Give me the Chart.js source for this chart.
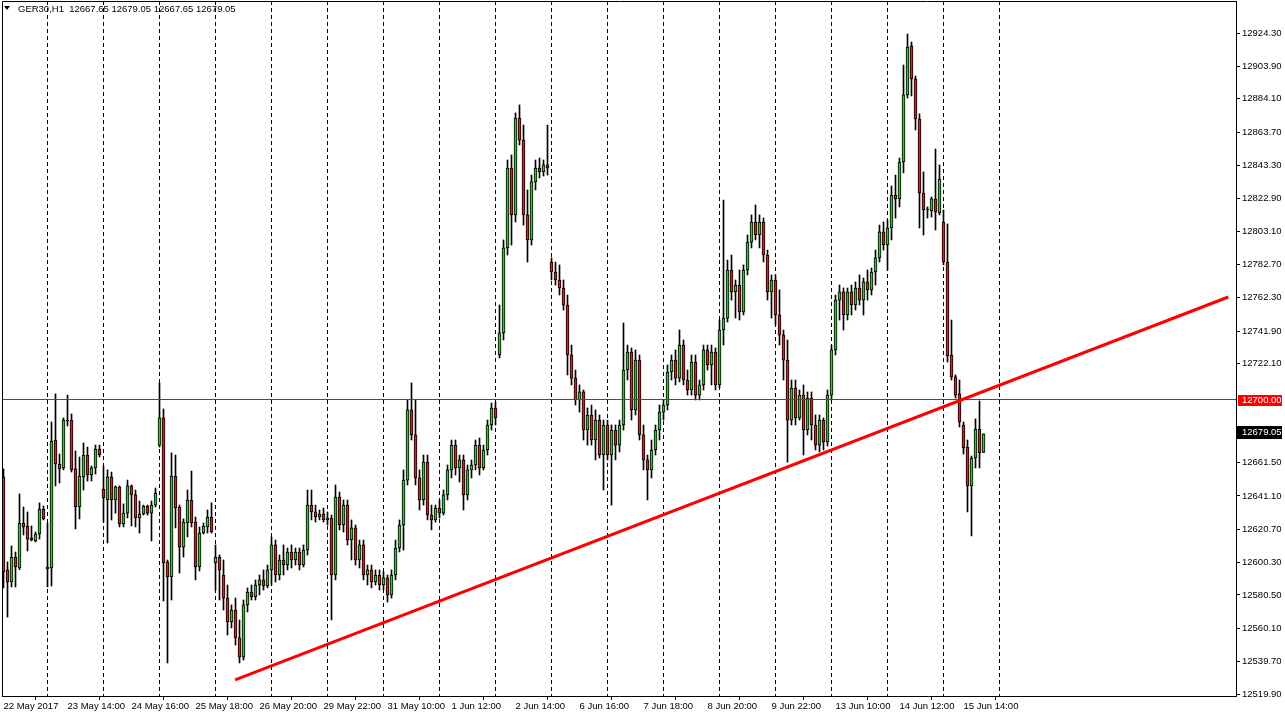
<!DOCTYPE html>
<html><head><meta charset="utf-8">
<script src="https://cdn.jsdelivr.net/npm/chart.js@4.4.1/dist/chart.umd.min.js"></script>
<style>html,body{margin:0;padding:0;background:#fff;overflow:hidden}canvas{display:block}</style>
</head><body>
<canvas id="c" width="1285" height="718"></canvas>
<script>
const symbolTitle = 'GER30,H1';

const opens = [
12652.7,12595.8,12588.4,12603.7,12597.0,12624.5,12622.7,12615.4,12613.5,12617.8,
12633.1,12596.4,12597.0,12675.3,12660.6,12658.2,12687.5,12687.5,12657.6,12634.3,
12652.7,12666.1,12653.9,12658.2,12669.8,12645.3,12638.6,12652.7,12638.6,12646.6,
12623.9,12630.6,12647.2,12641.7,12627.6,12630.0,12634.9,12630.6,12635.5,12672.2,
12688.8,12600.7,12591.5,12653.3,12634.3,12609.8,12624.5,12638.6,12625.1,12597.6,
12618.4,12622.1,12628.2,12600.1,12603.7,12592.7,12578.6,12564.0,12571.3,12554.2,
12542.5,12574.4,12582.3,12579.3,12586.6,12589.7,12586.0,12595.8,12611.1,12592.7,
12601.9,12598.8,12606.8,12601.9,12606.8,12598.8,12608.0,12635.5,12631.3,12628.2,
12630.0,12626.4,12627.6,12592.7,12640.4,12623.3,12635.5,12614.1,12621.5,12601.9,
12611.1,12592.7,12595.8,12588.4,12592.7,12586.6,12590.9,12580.5,12592.7,12609.2,
12623.3,12650.8,12693.7,12678.4,12652.1,12638.6,12661.8,12629.4,12626.4,12633.7,
12630.6,12641.7,12657.0,12672.2,12658.2,12663.1,12641.7,12657.0,12660.0,12672.2,
12658.2,12669.2,12684.5,12694.9,12727.3,12740.8,12792.8,12841.7,12813.0,12872.3,
12858.8,12813.0,12797.7,12833.2,12841.7,12839.3,12843.6,12784.2,12778.1,12773.2,
12768.3,12757.9,12727.3,12713.2,12699.8,12704.7,12681.4,12690.6,12675.3,12687.5,
12666.1,12684.5,12666.1,12681.4,12672.2,12684.5,12718.1,12729.1,12693.7,12724.2,
12678.4,12663.1,12657.0,12669.2,12681.4,12692.4,12696.7,12716.9,12724.2,12713.2,
12733.4,12712.0,12705.9,12723.0,12702.8,12709.0,12730.4,12721.2,12729.1,12709.0,
12742.6,12749.9,12779.3,12765.9,12770.1,12753.6,12779.3,12796.4,12808.7,12800.7,
12808.7,12788.5,12765.9,12773.2,12751.8,12739.5,12724.2,12687.5,12707.1,12688.8,
12702.8,12681.4,12701.0,12684.5,12672.2,12687.5,12674.1,12702.8,12730.4,12760.9,
12765.9,12751.8,12765.9,12757.9,12768.3,12760.9,12772.0,12767.1,12778.1,12786.7,
12802.6,12794.6,12805.0,12825.2,12822.8,12845.4,12886.4,12916.4,12896.2,12871.7,
12826.4,12816.0,12815.4,12822.8,12814.2,12808.7,12784.2,12727.3,12713.9,12703.5,
12684.5,12671.0,12647.2,12664.3,12682.0,12667.65
];
const highs = [
12657.6,12600.7,12610.5,12606.8,12642.3,12634.3,12631.3,12622.7,12619.0,12636.8,
12634.9,12624.5,12686.3,12703.5,12666.7,12688.8,12702.8,12691.2,12668.6,12664.9,
12673.5,12671.0,12659.4,12672.2,12672.2,12659.4,12657.0,12655.7,12647.2,12647.2,
12636.2,12650.8,12647.8,12644.7,12638.0,12635.5,12635.5,12638.0,12645.9,12710.2,
12694.3,12601.9,12667.4,12666.1,12635.5,12627.0,12644.7,12656.3,12628.2,12622.1,
12624.5,12632.5,12636.8,12611.1,12605.0,12601.9,12586.6,12574.4,12578.6,12565.2,
12577.4,12584.8,12586.6,12589.7,12592.7,12595.8,12598.8,12616.0,12614.1,12605.0,
12611.1,12609.2,12611.1,12609.2,12609.2,12611.1,12644.7,12644.7,12635.5,12632.5,
12633.7,12631.3,12629.4,12647.8,12643.5,12638.6,12638.6,12626.4,12623.3,12614.1,
12614.1,12598.8,12598.8,12595.8,12595.8,12594.6,12592.7,12595.8,12614.1,12626.4,
12657.0,12699.8,12710.2,12699.8,12657.0,12666.1,12666.1,12635.5,12635.5,12638.6,
12644.7,12660.0,12675.3,12675.3,12666.1,12666.1,12660.0,12663.1,12675.3,12676.5,
12672.2,12687.5,12697.9,12698.6,12757.9,12797.7,12846.6,12849.7,12875.4,12880.3,
12868.0,12828.3,12837.4,12846.6,12847.8,12846.6,12868.0,12786.7,12784.2,12782.4,
12773.2,12764.0,12733.4,12718.1,12709.0,12705.9,12694.9,12696.7,12693.7,12690.6,
12687.5,12687.5,12684.5,12684.5,12687.5,12746.9,12733.4,12731.6,12730.4,12727.3,
12684.5,12666.1,12675.3,12684.5,12696.7,12699.8,12721.2,12727.3,12730.4,12742.6,
12736.5,12718.1,12727.3,12727.3,12712.0,12733.4,12733.4,12733.4,12731.6,12748.7,
12822.1,12785.4,12788.5,12773.2,12779.3,12782.4,12800.7,12813.0,12819.1,12813.0,
12811.1,12791.5,12776.3,12776.3,12767.1,12742.6,12736.5,12712.0,12712.0,12705.9,
12709.0,12704.7,12704.7,12690.6,12690.6,12688.8,12705.9,12733.4,12764.0,12770.1,
12768.3,12768.3,12770.1,12772.0,12776.3,12774.4,12779.3,12780.5,12791.5,12806.8,
12808.7,12809.9,12830.7,12837.4,12847.8,12904.7,12923.7,12918.8,12898.0,12874.8,
12839.3,12817.9,12824.0,12853.3,12843.6,12816.0,12807.5,12748.7,12715.1,12712.0,
12686.3,12675.3,12665.5,12688.2,12699.2,12679.05
];
const lows = [
12584.8,12567.0,12585.4,12585.4,12596.0,12617.2,12607.4,12613.5,12612.9,12614.7,
12626.4,12585.4,12586.0,12647.2,12649.0,12657.0,12683.9,12655.7,12620.9,12627.0,
12644.7,12650.2,12650.2,12654.5,12664.9,12625.1,12612.3,12626.4,12630.6,12622.1,
12622.1,12627.6,12622.7,12622.1,12618.4,12629.4,12629.4,12613.5,12634.3,12671.0,
12576.8,12538.9,12577.4,12621.5,12593.9,12603.7,12616.0,12622.1,12589.7,12595.2,
12617.8,12618.4,12618.4,12583.5,12577.4,12571.3,12556.0,12560.3,12549.9,12538.9,
12540.7,12570.1,12577.4,12577.4,12580.5,12583.5,12584.8,12586.6,12588.4,12589.7,
12592.7,12595.8,12597.0,12598.8,12595.8,12597.6,12604.9,12626.4,12625.1,12626.4,
12625.1,12623.3,12565.2,12589.7,12620.3,12619.0,12611.1,12601.9,12598.8,12597.0,
12589.7,12586.6,12584.8,12586.6,12583.5,12583.5,12576.2,12578.6,12589.7,12606.8,
12608.0,12647.8,12675.3,12647.8,12632.5,12635.5,12626.4,12620.3,12625.1,12627.6,
12629.4,12638.6,12652.1,12653.9,12649.6,12632.5,12638.6,12652.1,12657.0,12653.9,
12657.0,12666.1,12681.4,12684.5,12725.5,12736.5,12788.5,12794.6,12808.7,12855.8,
12806.8,12784.2,12794.6,12828.3,12835.6,12836.8,12837.4,12773.2,12770.1,12764.0,
12754.8,12715.1,12709.0,12696.7,12692.4,12675.3,12672.2,12672.2,12663.1,12664.3,
12644.7,12663.1,12635.5,12663.1,12668.0,12681.4,12712.0,12687.5,12690.6,12675.3,
12657.0,12638.6,12652.1,12666.1,12675.3,12687.5,12693.7,12712.0,12709.0,12710.8,
12709.0,12702.8,12702.8,12699.8,12699.8,12705.9,12718.1,12709.0,12705.9,12707.1,
12733.4,12747.5,12760.9,12749.9,12748.7,12751.8,12776.3,12792.8,12797.7,12792.8,
12784.2,12760.9,12749.9,12745.7,12733.4,12712.0,12661.8,12684.5,12684.5,12687.5,
12666.1,12678.4,12675.3,12669.2,12668.0,12669.2,12671.6,12699.8,12727.3,12748.7,
12742.6,12748.7,12751.8,12754.8,12757.9,12751.8,12760.9,12764.0,12770.1,12784.2,
12791.5,12779.3,12797.7,12811.1,12817.9,12838.7,12884.5,12885.8,12865.0,12805.0,
12800.7,12811.1,12811.7,12803.8,12813.0,12782.4,12723.0,12712.0,12701.0,12683.3,
12666.7,12631.3,12616.6,12658.2,12658.2,12667.65
];
const closes = [
12594.6,12588.4,12603.7,12597.6,12624.5,12622.1,12614.7,12614.1,12617.8,12633.1,
12627.0,12597.6,12674.7,12660.6,12657.6,12687.5,12686.9,12657.0,12634.3,12653.3,
12666.1,12653.9,12658.2,12669.8,12666.1,12639.8,12652.7,12638.6,12646.6,12623.9,
12630.6,12647.2,12641.7,12627.6,12630.0,12634.9,12630.6,12635.5,12642.9,12688.8,
12600.1,12591.5,12653.3,12633.7,12609.8,12625.1,12638.6,12624.5,12597.6,12618.4,
12622.7,12628.2,12619.0,12603.7,12595.8,12578.6,12564.0,12571.3,12554.2,12542.5,
12574.4,12582.3,12579.3,12586.6,12589.7,12586.0,12595.8,12611.1,12592.7,12601.9,
12598.8,12606.8,12601.9,12606.8,12598.8,12608.0,12635.5,12631.3,12628.2,12630.0,
12626.4,12627.6,12592.7,12640.4,12623.3,12635.5,12614.1,12621.5,12601.9,12611.1,
12592.7,12595.8,12588.4,12592.7,12586.6,12590.9,12580.5,12592.7,12609.2,12623.3,
12650.8,12693.7,12678.4,12652.1,12638.6,12661.8,12629.4,12626.4,12633.7,12630.6,
12641.7,12657.0,12672.2,12658.2,12663.1,12641.7,12657.0,12660.0,12672.2,12658.2,
12669.2,12684.5,12694.9,12688.8,12740.8,12792.8,12841.7,12813.0,12872.3,12858.8,
12813.0,12797.7,12833.2,12841.7,12839.3,12843.6,12841.7,12778.1,12773.2,12768.3,
12757.9,12727.3,12713.2,12699.8,12704.7,12681.4,12690.6,12675.3,12687.5,12666.1,
12684.5,12666.1,12681.4,12672.2,12684.5,12718.1,12729.1,12693.7,12724.2,12678.4,
12663.1,12657.0,12669.2,12681.4,12692.4,12696.7,12716.9,12724.2,12713.2,12733.4,
12712.0,12705.9,12723.0,12702.8,12709.0,12730.4,12721.2,12729.1,12709.0,12742.6,
12749.9,12779.3,12765.9,12770.1,12753.6,12779.3,12796.4,12808.7,12800.7,12808.7,
12788.5,12765.9,12773.2,12751.8,12739.5,12724.2,12687.5,12707.1,12688.8,12702.8,
12681.4,12701.0,12684.5,12672.2,12687.5,12674.1,12702.8,12730.4,12760.9,12765.9,
12751.8,12765.9,12757.9,12768.3,12760.9,12772.0,12767.1,12778.1,12786.7,12802.6,
12794.6,12805.0,12825.2,12822.8,12845.4,12886.4,12915.7,12896.2,12871.7,12826.4,
12816.0,12816.6,12822.8,12814.8,12835.0,12784.2,12726.7,12713.9,12702.8,12686.3,
12670.4,12647.2,12664.3,12682.0,12667.4,12679.05
];

const timeLabels = ['22 May 2017','23 May 14:00','24 May 16:00','25 May 18:00','26 May 20:00','29 May 22:00','31 May 10:00','1 Jun 12:00','2 Jun 14:00','6 Jun 16:00','7 Jun 18:00','8 Jun 20:00','9 Jun 22:00','13 Jun 10:00','14 Jun 12:00','15 Jun 14:00'];
const timeLabelBars = [0,16,32,48,64,80,96,112,128,144,160,176,192,208,224,240];
const gridBars = [11,25,39,53,67,81,95,109,123,137,151,165,179,193,207,221,235,249];
const priceTicks = [12924.30,12903.90,12884.10,12863.70,12843.30,12822.90,12803.10,12782.70,12762.30,12741.90,12722.10,12681.30,12661.50,12641.10,12620.70,12600.30,12580.50,12560.10,12539.70,12519.90];
const levelPrice = 12700.00;
const trendBars = [57.9, 306.2];
const trendPrices = [12528.5, 12762.8];

const N = Math.min(opens.length, highs.length, lows.length, closes.length);
const bodies = [], wicks = [], bodyColors = [];
for (let i = 0; i < N; i++) {
  bodies.push({x: i, y: [opens[i], closes[i]]});
  wicks.push({x: i, y: [lows[i], highs[i]]});
  bodyColors.push(closes[i] >= opens[i] ? '#2bc92b' : '#e01e1e');
}
const trend = trendBars.map((b, k) => ({x: b, y: trendPrices[k]}));
const lastClose = closes[N - 1];

const FONT = 'Liberation Sans, Arial, sans-serif';

const mtPlugin = {
  id: 'mt',
  beforeDatasetsDraw(chart) {
    const {ctx, chartArea: a, scales: {x}} = chart;
    ctx.save();
    ctx.strokeStyle = '#000'; ctx.lineWidth = 1; ctx.setLineDash([4, 3]);
    gridBars.forEach(b => {
      const px = Math.floor(x.getPixelForValue(b)) + 0.5;
      ctx.beginPath(); ctx.moveTo(px, a.top); ctx.lineTo(px, a.bottom); ctx.stroke();
    });
    ctx.restore();
  },
  afterDatasetsDraw(chart) {
    const {ctx, chartArea: a, scales: {y}} = chart;
    const py = Math.floor(y.getPixelForValue(levelPrice));
    ctx.save();
    ctx.setLineDash([]);
    ctx.fillStyle = '#ff0000';
    ctx.fillRect(a.left, py, a.right - a.left, 1);
    ctx.restore();
  },
  afterDraw(chart) {
    const {ctx, chartArea: a, scales: {y}} = chart;
    ctx.save();
    ctx.setLineDash([]);
    ctx.strokeStyle = '#000'; ctx.lineWidth = 1;
    ctx.beginPath();
    ctx.moveTo(a.left + 0.5, a.bottom); ctx.lineTo(a.left + 0.5, a.top + 0.5); ctx.lineTo(a.right, a.top + 0.5);
    ctx.stroke();
    ctx.fillStyle = '#000';
    ctx.beginPath(); ctx.moveTo(4, 6); ctx.lineTo(10, 6); ctx.lineTo(7, 10); ctx.closePath(); ctx.fill();
    ctx.font = '9.5px ' + FONT; ctx.textBaseline = 'middle'; ctx.textAlign = 'left';
    const f = v => v.toFixed(2);
    ctx.fillText(symbolTitle + '  ' + f(opens[N-1]) + ' ' + f(highs[N-1]) + ' ' + f(lows[N-1]) + ' ' + f(closes[N-1]), 18, 9);
    const ly = y.getPixelForValue(levelPrice);
    ctx.fillStyle = '#ff0000';
    ctx.fillRect(a.right + 2, Math.round(ly) - 5, 44, 11);
    ctx.fillStyle = '#fff';
    ctx.fillText(f(levelPrice), a.right + 6, Math.round(ly) + 0.5);
    const cy = y.getPixelForValue(lastClose) - 2;
    ctx.fillStyle = '#000';
    ctx.fillRect(a.right + 1, Math.round(cy) - 6, 45, 13);
    ctx.fillStyle = '#fff';
    ctx.fillText(f(lastClose), a.right + 6, Math.round(cy) + 0.5);
    ctx.restore();
  }
};

new Chart(document.getElementById('c'), {
  type: 'bar',
  data: {
    datasets: [
      {type: 'line', data: trend, borderColor: '#ff0000', borderWidth: 3, pointRadius: 0, fill: false, tension: 0},
      {data: bodies, backgroundColor: bodyColors, borderColor: '#000', borderWidth: 1, borderSkipped: false, barThickness: 3, minBarLength: 1, grouped: false},
      {data: wicks, backgroundColor: '#000', borderWidth: 0, barThickness: 1, grouped: false}
    ]
  },
  options: {
    responsive: false,
    devicePixelRatio: 1,
    animation: false,
    events: [],
    layout: {padding: {left: 2, top: 1, right: 0, bottom: 0}},
    plugins: {legend: {display: false}, tooltip: {enabled: false}, title: {display: false}},
    scales: {
      x: {
        type: 'linear', position: 'bottom', min: -0.375, max: 308.125, offset: false,
        afterBuildTicks: s => { s.ticks = timeLabelBars.map(v => ({value: v})); },
        afterFit: s => { s.height = 22; s.paddingLeft = 0; s.paddingRight = 0; },
        ticks: {
          autoSkip: false, maxRotation: 0, minRotation: 0, align: 'start', padding: 1,
          color: '#000', font: {family: FONT, size: 9.5},
          callback: (v, i) => timeLabels[i]
        },
        grid: {display: true, drawOnChartArea: false, drawTicks: true, tickLength: 4, color: '#000', lineWidth: 1},
        border: {display: true, color: '#000', width: 1}
      },
      y: {
        type: 'linear', position: 'right',
        min: 12518.68, max: 12943.88,
        afterBuildTicks: s => { s.ticks = priceTicks.map(v => ({value: v})); },
        afterFit: s => { s.width = 49; s.paddingTop = 0; s.paddingBottom = 0; },
        ticks: {
          padding: 2, color: '#000', font: {family: FONT, size: 9.5},
          callback: v => Number(v).toFixed(2)
        },
        grid: {display: true, drawOnChartArea: false, drawTicks: true, tickLength: 4, color: '#000', lineWidth: 1},
        border: {display: true, color: '#000', width: 1}
      }
    }
  },
  plugins: [mtPlugin]
});
</script>
</body></html>
